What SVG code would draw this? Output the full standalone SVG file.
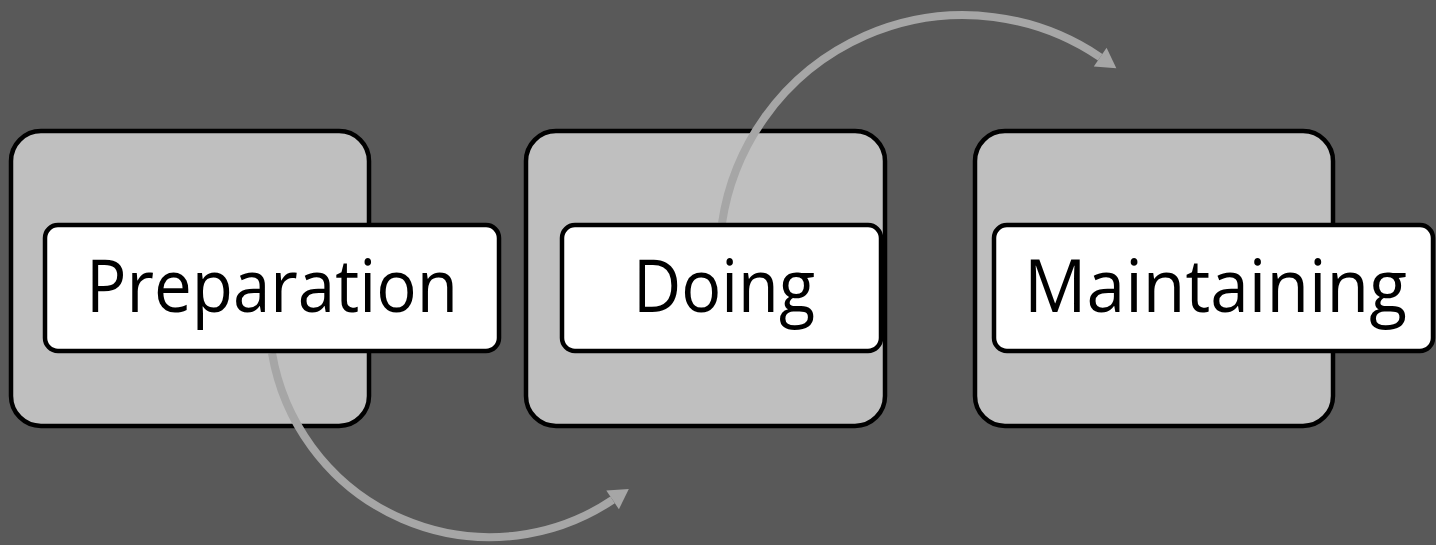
<svg xmlns="http://www.w3.org/2000/svg" width="1436" height="545" viewBox="0 0 1436 545">
<style>
.outer{fill:#BFBFBF;stroke:#000;stroke-width:4.5}
.label{fill:#FFFFFF;stroke:#000;stroke-width:4.5}
.txt{font-family:"Open Sans","Noto Sans",sans-serif;font-size:73px;fill:#000;text-anchor:middle}
.conn{fill:none;stroke:#A6A6A6;stroke-width:8}
</style>
<defs>
<marker id="ah" markerUnits="userSpaceOnUse" markerWidth="24" markerHeight="26" viewBox="0 -12 20 24" refX="0" refY="0" orient="auto">
<path d="M0,-10.5 L18,0 L0,10.5 z" fill="#A6A6A6"/>
</marker>
</defs>
<rect width="1436" height="545" fill="#595959"/>
<g id="box-preparation-bg"><rect class="outer" x="11" y="131" width="358" height="295" rx="30"/></g>
<g id="box-doing-bg"><rect class="outer" x="526" y="131" width="359" height="295" rx="30"/></g>
<g id="box-maintaining-bg"><rect class="outer" x="975" y="131" width="358" height="295" rx="30"/></g>
<g id="connectors">
<path class="conn" d="M272,353 A221,221 0 0 0 612.6,499.9" marker-end="url(#ah)"/>
<path class="conn" d="M722,223 A244,244 0 0 1 1100.2,57.2" marker-end="url(#ah)"/>
</g>
<g id="node-preparation">
<rect class="label" x="45" y="225" width="454" height="126" rx="13"/>
<text class="txt" x="272" y="312" textLength="372" lengthAdjust="spacingAndGlyphs">Preparation</text>
</g>
<g id="node-doing">
<rect class="label" x="562" y="225" width="319" height="126" rx="13"/>
<text class="txt" x="724" y="312" textLength="182" lengthAdjust="spacingAndGlyphs">Doing</text>
</g>
<g id="node-maintaining">
<rect class="label" x="994" y="225" width="439" height="126" rx="13"/>
<text class="txt" x="1215.5" y="312" textLength="383" lengthAdjust="spacingAndGlyphs">Maintaining</text>
</g>
</svg>
